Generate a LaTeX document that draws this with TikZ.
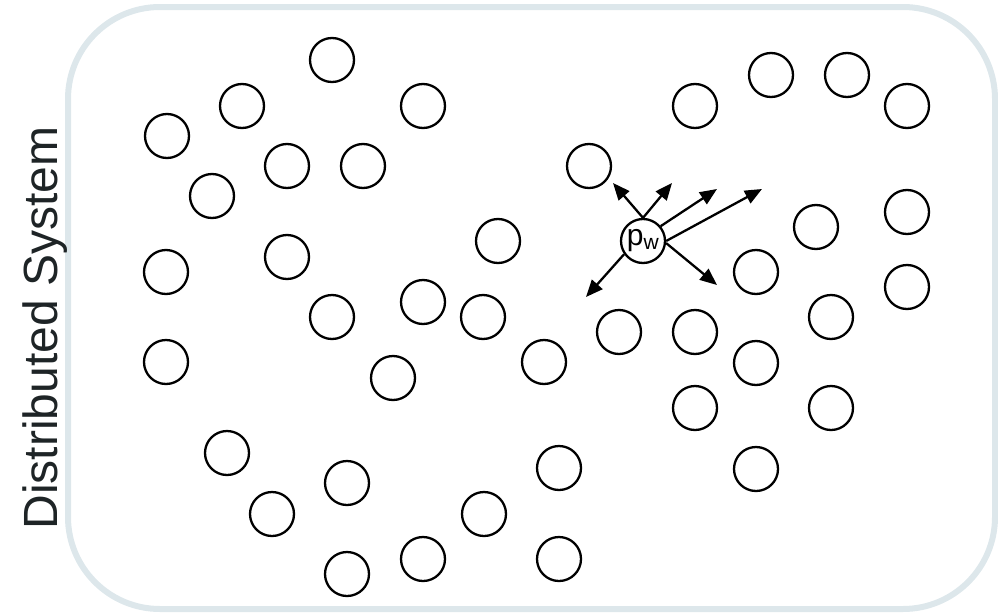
\documentclass[tikz,border=0pt]{standalone}
\usepackage{fontspec}
\setmainfont{Liberation Sans}
\usepackage{xcolor}
\usepackage{tikz}
\usetikzlibrary{arrows.meta, positioning}

\definecolor{framegray}{HTML}{DDE7EB}
\definecolor{labelgray}{HTML}{1E2426}

\begin{document}
\begin{tikzpicture}[
    x=1pt, y=-1pt,
    peer/.style={circle, draw, line width=2.3pt, minimum size=44pt, inner sep=0pt},
    msg/.style={-{Triangle[length=17pt, width=14pt]}, line width=2.3pt}
]
\useasboundingbox (0,0) rectangle (998,613);

% System frame
\draw[framegray, line width=6pt, rounded corners=92pt] (68,7) rectangle (995,609);
\node[rotate=90, anchor=base, font=\fontsize{48}{48}\selectfont, text=labelgray] (title) at (57,328) {Distributed System};

% Left group
\node[peer] (p1) at (332,60) {};
\node[peer] (p2) at (242,106) {};
\node[peer] (p3) at (423,106) {};
\node[peer] (p4) at (167,136) {};
\node[peer] (p5) at (287,166) {};
\node[peer] (p6) at (363,166) {};
\node[peer] (p7) at (212,196) {};
\node[peer] (p8) at (166,272) {};
\node[peer] (p9) at (287,257) {};
\node[peer] (p10) at (498,241) {};
\node[peer] (p11) at (332,317) {};
\node[peer] (p12) at (423,302) {};
\node[peer] (p13) at (483,317) {};
\node[peer] (p14) at (166,362) {};
\node[peer] (p15) at (393,378) {};
\node[peer] (p16) at (544,362) {};

% Bottom group
\node[peer] (p17) at (227,453) {};
\node[peer] (p18) at (272,514) {};
\node[peer] (p19) at (347,483) {};
\node[peer] (p20) at (347,574) {};
\node[peer] (p21) at (423,559) {};
\node[peer] (p22) at (484,514) {};
\node[peer] (p23) at (559,468) {};
\node[peer] (p24) at (559,559) {};

% Right group
\node[peer] (p25) at (589,166) {};
\node[peer] (p26) at (695,106) {};
\node[peer] (p27) at (771,75) {};
\node[peer] (p28) at (847,75) {};
\node[peer] (p29) at (907,106) {};
\node[peer] (p30) at (816,227) {};
\node[peer] (p31) at (907,212) {};
\node[peer] (p32) at (756,272) {};
\node[peer] (p33) at (907,287) {};
\node[peer] (p34) at (619,332) {};
\node[peer] (p35) at (695,332) {};
\node[peer] (p36) at (831,317) {};
\node[peer] (p37) at (756,363) {};
\node[peer] (p38) at (695,408) {};
\node[peer] (p39) at (831,408) {};
\node[peer] (p40) at (756,469) {};

% Writer and its messages
\node[peer, font=\fontsize{30}{30}\selectfont] (pw) at (643,241) {p\textsubscript{w}};
\coordinate (m1) at (613,183);
\coordinate (m2) at (672,183);
\coordinate (m3) at (717,189);
\coordinate (m4) at (762,189);
\coordinate (m5) at (717,285);
\coordinate (m6) at (586,297);

\draw[msg] (pw.north) -- (m1);
\draw[msg] (pw.north) -- (m2);
\draw[msg] (pw.40) -- (m3);
\draw[msg] (pw.east) -- (m4);
\draw[msg] (pw.-5) -- (m5);
\draw[msg] (pw.215) -- (m6);

\end{tikzpicture}
\end{document}
